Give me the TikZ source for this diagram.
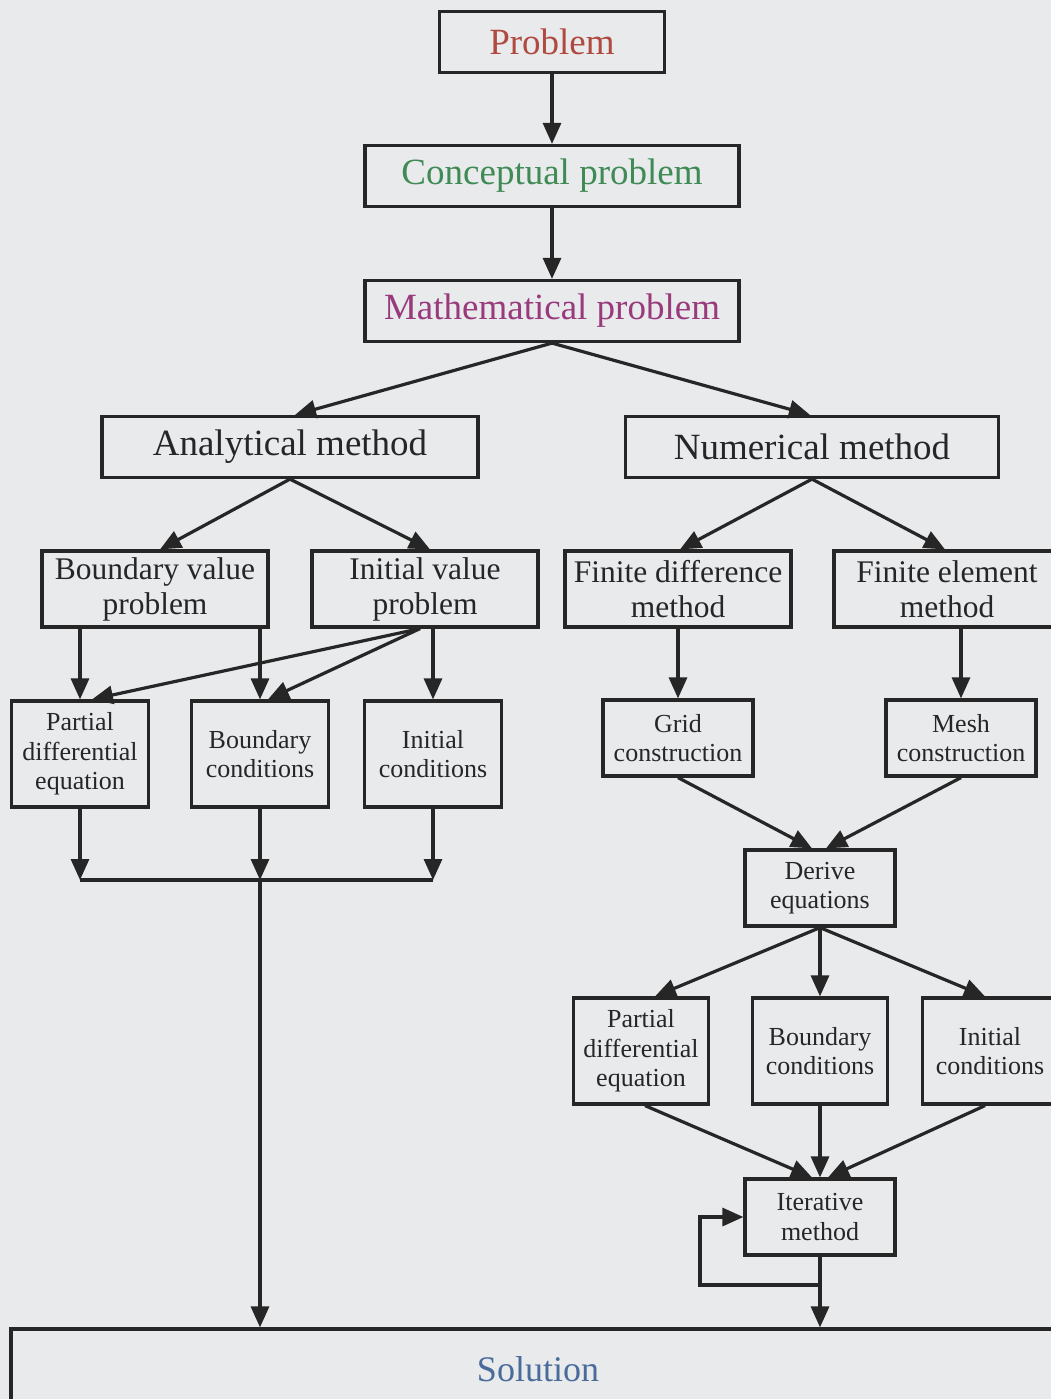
\documentclass[tikz,border=0pt]{standalone}
\usepackage{fontspec}
\setmainfont{Liberation Serif}
\usetikzlibrary{arrows.meta,calc}
\definecolor{bg}{HTML}{E8EAEC}
\definecolor{ink}{HTML}{262626}
\definecolor{cprob}{HTML}{B04A40}
\definecolor{cconc}{HTML}{3F8A55}
\definecolor{cmath}{HTML}{983A7C}
\definecolor{csol}{HTML}{4B6B9B}
\tikzset{
  box/.style={draw=ink,line width=3.2pt,fill=bg,inner sep=0pt,align=center,text=ink},
  bigbox/.style={box,font=\fontsize{37}{40}\selectfont,minimum height=61pt},
  midbox/.style={box,font=\fontsize{31.5}{35}\selectfont,minimum width=226pt,minimum height=76pt},
  smallbox/.style={box,font=\fontsize{26}{29.5}\selectfont},
  condbox/.style={smallbox,minimum width=137pt,minimum height=106pt},
  twobox/.style={smallbox,minimum width=150pt,minimum height=76pt},
  arr/.style={draw=ink,line width=3.2pt,-{Triangle[length=21pt,width=18pt]}},
  ln/.style={draw=ink,line width=3.2pt}
}
\begin{document}
\begin{tikzpicture}[x=1pt,y=-1pt]
\fill[bg] (0,0) rectangle (1051,1399);
\useasboundingbox (0,0) rectangle (1051,1399);

% top chain
\node[bigbox,minimum width=225pt,text=cprob] (prob) at (552,42) {Problem};
\node[bigbox,minimum width=374pt,text=cconc] (conc) at (552,176) {Conceptual problem};
\node[bigbox,minimum width=374pt,text=cmath] (math) at (552,311) {Mathematical problem};

% methods
\node[bigbox,minimum width=376pt] (ana) at (290,447) {Analytical method};
\node[bigbox,minimum width=373pt] (num) at (812,447) {Numerical method};

% second level
\node[midbox] (bvp) at (155,589) {Boundary value\\problem};
\node[midbox] (ivp) at (425,589) {Initial value\\problem};
\node[midbox] (fdm) at (678,589) {Finite difference\\method};
\node[midbox] (fem) at (947,589) {Finite element\\method};

% analytical conditions
\node[condbox] (pdeL) at (80,754) {Partial\\differential\\equation};
\node[condbox] (bcL) at (260,754) {Boundary\\conditions};
\node[condbox] (icL) at (433,754) {Initial\\conditions};

% numerical
\node[twobox] (grid) at (678,738) {Grid\\construction};
\node[twobox] (mesh) at (961,738) {Mesh\\construction};
\node[twobox] (der) at (820,888) {Derive\\equations};
\node[condbox,minimum width=135pt] (pdeR) at (641,1051) {Partial\\differential\\equation};
\node[condbox,minimum width=135pt] (bcR) at (820,1051) {Boundary\\conditions};
\node[condbox,minimum width=135pt] (icR) at (990,1051) {Initial\\conditions};
\node[twobox] (iter) at (820,1217) {Iterative\\method};

% solution
\node[box,minimum width=1054pt,minimum height=80pt,text=csol,font=\fontsize{36}{40}\selectfont] (sol) at (538,1369) {Solution};

% arrows top
\draw[arr] (prob) -- (conc);
\draw[arr] (conc) -- (math);
\draw[arr] (math.south) -- ($(ana.north)+(5,0)$);
\draw[arr] (math.south) -- ($(num.north)+(-2,0)$);
\draw[arr] (ana.south) -- ($(bvp.north)+(5,0)$);
\draw[arr] (ana.south) -- ($(ivp.north)+(5,0)$);
\draw[arr] (num.south) -- ($(fdm.north)+(2,0)$);
\draw[arr] (num.south) -- ($(fem.north)+(-2,0)$);

% analytical branch
\draw[arr] (bvp.south -| pdeL.north) -- (pdeL.north);
\draw[arr] (bvp.south -| bcL.north) -- (bcL.north);
\draw[arr] ($(ivp.south)+(-5,0)$) -- ($(pdeL.north)+(12,0)$);
\draw[arr] ($(ivp.south)+(-5,0)$) -- ($(bcL.north)+(8,0)$);
\draw[arr] (ivp.south -| icL.north) -- (icL.north);

\coordinate (join) at (260,880);
\draw[arr] (pdeL.south) -- (pdeL.south |- join);
\draw[arr] (bcL.south) -- (bcL.south |- join);
\draw[arr] (icL.south) -- (icL.south |- join);
\draw[ln] (pdeL.south |- join) -- (icL.south |- join);
\draw[arr] (join) -- (join |- sol.north);

% numerical branch
\draw[arr] (fdm.south) -- (grid.north);
\draw[arr] (fem.south -| mesh.north) -- (mesh.north);
\draw[arr] (grid.south) -- ($(der.north)+(-8,0)$);
\draw[arr] (mesh.south) -- ($(der.north)+(6,0)$);
\draw[arr] (der.south) -- ($(pdeR.north)+(14,0)$);
\draw[arr] (der.south) -- (bcR.north);
\draw[arr] (der.south) -- ($(icR.north)+(-5,0)$);
\draw[arr] ($(pdeR.south)+(4,0)$) -- ($(iter.north)+(-8,0)$);
\draw[arr] (bcR.south) -- (iter.north);
\draw[arr] ($(icR.south)+(-5,0)$) -- ($(iter.north)+(8,0)$);

\coordinate (loop) at (820,1285);
\draw[arr] (iter.south) -- (iter.south |- sol.north);
\draw[arr] (loop) -- (700,1285) -- (700,1217) -- (iter.west);
\end{tikzpicture}
\end{document}
